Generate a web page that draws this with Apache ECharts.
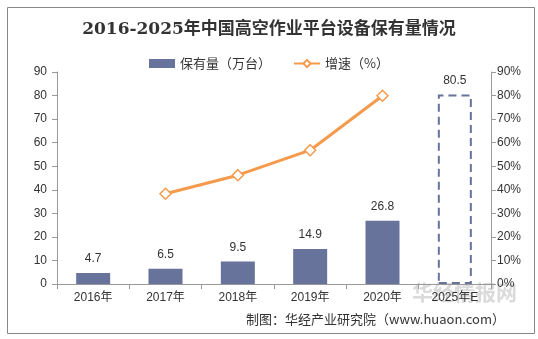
<!DOCTYPE html>
<html><head><meta charset="utf-8">
<script src="https://cdn.jsdelivr.net/npm/echarts@6/dist/echarts.min.js"></script>
<style>html,body{margin:0;padding:0;background:#fff}#c{width:538px;height:339px}</style>
</head><body><div id="c"></div>
<script>
const categories = ['2016年','2017年','2018年','2019年','2020年','2025年E'];
const stockValues = [4.7, 6.5, 9.5, 14.9, 26.8, 80.5];
const growthValues = [null, 38.3, 46.2, 56.8, 79.9, null];
const leftTicks = {min:0, max:90, interval:10};
const rightTicks = {min:0, max:90, interval:10};

const barColor = '#67739A';
const lineColor = '#F59A4C';
const barData = stockValues.map((v,i)=> i===stockValues.length-1 ? {
  value:v,
  itemStyle:{color:'rgba(0,0,0,0)', borderColor:barColor, borderWidth:2, borderType:[8,5]}
} : v);

const chart = echarts.init(document.getElementById('c'));
chart.setOption({
  animation:false,
  backgroundColor:'#fff',
  title:{text:'2016-2025年中国高空作业平台设备保有量情况', left:'center', top:16,
    textStyle:{fontFamily:'"DejaVu Serif","Noto Sans CJK SC",serif', fontWeight:'bold', fontSize:17, color:'#333'}},
  legend:{top:52, left:'center', itemGap:22, itemWidth:26, itemHeight:9,
    textStyle:{fontSize:13, color:'#333', fontFamily:'"Noto Sans CJK SC",sans-serif'},
    data:[{name:'保有量（万台）', icon:'rect'},{name:'增速（%）'}]},
  grid:{left:57, right:47, top:72, bottom:55},
  xAxis:{type:'category', data:categories,
    axisLine:{lineStyle:{color:'#999'}}, axisTick:{show:true, lineStyle:{color:'#999'}},
    axisLabel:{color:'#333', fontSize:12, margin:8, fontFamily:'"Liberation Sans","Noto Sans CJK SC",sans-serif'}},
  yAxis:[
    {type:'value', min:leftTicks.min, max:leftTicks.max, interval:leftTicks.interval,
      splitLine:{show:false}, axisLine:{show:true, lineStyle:{color:'#999'}}, axisTick:{show:true, lineStyle:{color:'#999'}},
      axisLabel:{color:'#333', fontSize:12, margin:10, fontFamily:'"Liberation Sans",sans-serif'}},
    {type:'value', min:rightTicks.min, max:rightTicks.max, interval:rightTicks.interval, position:'right',
      splitLine:{show:false}, axisLine:{show:true, lineStyle:{color:'#999'}}, axisTick:{show:true, lineStyle:{color:'#999'}},
      axisLabel:{color:'#333', fontSize:12, margin:6, formatter:'{value}%', fontFamily:'"Liberation Sans",sans-serif'}}
  ],
  series:[
    {name:'保有量（万台）', type:'bar', data:barData, barWidth:34, itemStyle:{color:barColor},
      label:{show:true, position:'top', color:'#333', fontSize:12, distance:8, fontFamily:'"Liberation Sans",sans-serif'}},
    {name:'增速（%）', type:'line', yAxisIndex:1, data:growthValues, connectNulls:false,
      lineStyle:{color:lineColor, width:3}, itemStyle:{color:'#fff', borderColor:lineColor, borderWidth:1.5},
      symbol:'diamond', symbolSize:11, showAllSymbol:true}
  ],
  graphic:[
    {type:'rect', left:5, top:5, shape:{width:527, height:326}, style:{fill:'none', stroke:'#888', lineWidth:1}, silent:true},
    {type:'text', left:412, top:282, z:-1, style:{text:'华经情报网', fill:'rgba(150,150,150,0.35)', font:'bold 21px "Noto Sans CJK SC",sans-serif'}},
    {type:'text', right:33, top:313, style:{text:'制图：华经产业研究院（www.huaon.com）', fill:'#333', font:'13px "Noto Sans CJK SC",sans-serif'}}
  ]
});
</script></body></html>
